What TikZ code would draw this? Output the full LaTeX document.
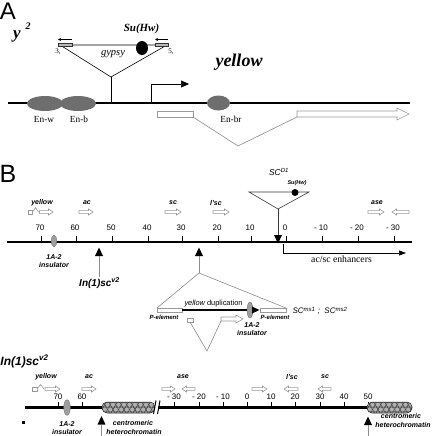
\documentclass[tikz,border=0pt]{standalone}
\usepackage{fontspec}
\setmainfont{Liberation Serif}
\setsansfont{Liberation Sans}
\usetikzlibrary{arrows.meta}
\definecolor{enhc}{gray}{0.43}
\definecolor{insc}{gray}{0.62}
\definecolor{genec}{gray}{0.6}
\definecolor{linec}{gray}{0.55}
\tikzset{
 chrom/.style={line width=2.5pt, black},
 thinl/.style={line width=0.6pt, black},
 grayl/.style={line width=0.6pt, linec},
 genearr/.style={draw=genec, fill=white, line width=0.6pt},
 enhancer/.style={fill=enhc, draw=none},
 insul/.style={fill=insc, draw=gray!80!black, line width=0.3pt},
 tickl/.style={line width=0.5pt, black},
 bl/.style={font=\sffamily\bfseries\itshape\fontsize{7}{8}\selectfont, inner sep=0},
 nm/.style={font=\sffamily\fontsize{8}{9}\selectfont, inner sep=0},
 upmark/.style={fill=black, draw=none},
}
\newcommand\garR[3]{\draw[genearr] (#1,#3-1.4) -- (#2-4.5,#3-1.4) -- (#2-4.5,#3-3) -- (#2,#3) -- (#2-4.5,#3+3) -- (#2-4.5,#3+1.4) -- (#1,#3+1.4) -- cycle;}
\newcommand\garL[3]{\draw[genearr] (#2,#3-1.4) -- (#1+4.5,#3-1.4) -- (#1+4.5,#3-3) -- (#1,#3) -- (#1+4.5,#3+3) -- (#1+4.5,#3+1.4) -- (#2,#3+1.4) -- cycle;}
\newcommand\heterobox[3]{%
 \begin{scope}
 \clip[rounded corners=5] (#1,402) rectangle (#2,413);
 \fill[gray!60] (#1,402) rectangle (#2,413);
 \foreach \xx in {#1,#3,...,#2} {
   \draw[fill=gray!62, draw=gray!25!black, line width=0.35pt] (\xx,404.7) circle (2.6);
   \draw[fill=gray!62, draw=gray!25!black, line width=0.35pt] (\xx+2.75,409.5) circle (2.6);
   \draw[fill=gray!62, draw=gray!25!black, line width=0.35pt] (\xx+2.75,399.9) circle (2.6);
   \draw[fill=gray!62, draw=gray!25!black, line width=0.35pt] (\xx,414.3) circle (2.6);
 }
 \end{scope}
 \draw[rounded corners=5, gray!30!black, line width=0.5pt] (#1,402) rectangle (#2,413);}
\begin{document}
\begin{tikzpicture}[x=1pt,y=-1pt]
\useasboundingbox (0,0) rectangle (432,436);
\fill[white] (0,0) rectangle (432,436);

% ================= Panel A =================
\node[inner sep=0, font=\sffamily\fontsize{24}{26}\selectfont] (labA) at (8,11.5) {A};
\node[inner sep=0, font=\bfseries\itshape\fontsize{17}{18}\selectfont] (y2) at (17,36) {y};
\node[inner sep=0, font=\bfseries\itshape\fontsize{10}{11}\selectfont] (y2s) at (28,26) {2};

\draw[chrom] (8,103) -- (410,103);
% gypsy insertion
\coordinate (gtl) at (60,45);
\coordinate (gtr) at (167,45);
\coordinate (gap) at (111,77);
\coordinate (gbase) at (111,103);
\draw[thinl] (gtl) -- (gtr) -- (gap) -- cycle;
\draw[thinl] (gap) -- (gbase);
\fill[gray!55, draw=gray!40!black, line width=0.3pt] (58,43.5) rectangle (72,46.5);
\fill[gray!55, draw=gray!40!black, line width=0.3pt] (155,43.5) rectangle (168,46.5);
\coordinate (la1) at (72,39.5); \coordinate (la2) at (58,39.5);
\coordinate (ra1) at (168,39.5); \coordinate (ra2) at (155,39.5);
\draw[line width=0.5pt, -{Stealth[length=3pt,width=3pt]}] (la1) -- (la2);
\draw[line width=0.5pt, -{Stealth[length=3pt,width=3pt]}] (ra1) -- (ra2);
\node[inner sep=0, font=\fontsize{7}{8}\selectfont] (t3) at (58,52) {3,};
\node[inner sep=0, font=\fontsize{7}{8}\selectfont] (t5) at (171,52) {5,};
\fill[black] (142,48) ellipse (6 and 7);
\node[inner sep=0, font=\bfseries\itshape\fontsize{11}{12}\selectfont] (suhwA) at (141.5,29) {Su(Hw)};
\node[inner sep=0, font=\itshape\fontsize{10.5}{12}\selectfont] (gypsy) at (113,54) {gypsy};
% promoter
\coordinate (p0) at (151,103);
\coordinate (p1) at (151,84);
\coordinate (p2) at (189,84);
\draw[thinl, -{Triangle[length=8pt,width=7pt]}] (p0) -- (p1) -- (p2);
\node[inner sep=0, font=\bfseries\itshape\fontsize{18}{20}\selectfont] (yellowA) at (239,62) {yellow};
% enhancers
\fill[enhancer] (45,103.5) ellipse (18 and 7.5);
\fill[enhancer] (78,103.5) ellipse (18 and 7.5);
\fill[enhancer] (218.5,103) ellipse (11.5 and 7.5);
\node[inner sep=0, font=\fontsize{9.3}{10}\selectfont] (enw) at (44,119) {En-w};
\node[inner sep=0, font=\fontsize{9.3}{10}\selectfont] (enb) at (79,119) {En-b};
\node[inner sep=0, font=\fontsize{9.3}{10}\selectfont] (enbr) at (231,119) {En-br};
% exons
\draw[genearr] (157,111) rectangle (193,117);
\draw[genearr] (297,111) -- (397,111) -- (397,108) -- (409,114) -- (397,120) -- (397,117) -- (297,117) -- cycle;
\draw[grayl] (193,117) -- (238,146) -- (297,117);

% ================= Panel B =================
\node[inner sep=0, font=\sffamily\fontsize{25}{27}\selectfont] (labB) at (8,174) {B};
\draw[chrom, line width=2.8pt] (7,242) -- (412,242);
\foreach \v/\xx/\t in {70/41/70, 60/76/60, 50/112/50, 40/148/40, 30/182/30, 20/218/20, 10/251/10, 0/286/0, m10/322/- 10, m20/358/- 20, m30/394/- 30} {
  \draw[tickl] (\xx,236) -- (\xx,242);
  \node[nm] (bt\v) at (\xx-1,227.5) {\t};
}
\fill[insul] (54,241) ellipse (2.8 and 5.8);
\node[bl] (ins1a) at (54,257) {1A-2};
\node[bl] (ins1b) at (54,265) {insulator};
% gene arrows
\draw[genearr] (28,210.5) rectangle (32.5,214);
\draw[genearr] (32.5,212) -- (35.5,207.5) -- (38.5,212);
\garR{39.5}{53}{212}
\garR{79}{93}{212}
\garR{165}{181}{212}
\garR{213}{229}{212}
\garR{368}{384}{212}
\garL{392}{409}{212}
\node[bl] (gy) at (42,203) {yellow};
\node[bl] (gac) at (87,203) {ac};
\node[bl] (gsc) at (173,203) {sc};
\node[bl] (glsc) at (216,203) {l'sc};
\node[bl] (gase) at (377,203) {ase};
% In(1)sc v2 breakpoint
\fill[upmark] (95,256) -- (103,256) -- (99,247.5) -- cycle;
\coordinate (m1a) at (99,256); \coordinate (m1b) at (99,277);
\draw[grayl] (m1a) -- (m1b);
\node[inner sep=0, font=\sffamily\bfseries\itshape\fontsize{10}{11}\selectfont] (insv2) at (99.5,283) {In(1)sc\textsuperscript{v2}};
% duplication insertion
\fill[upmark] (195,256) -- (203,256) -- (199,247.5) -- cycle;
\coordinate (m2a) at (199,256); \coordinate (m2b) at (199,273);
\draw[grayl] (m2a) -- (m2b);
\draw[grayl] (m2b) -- (157,308);
\draw[grayl] (m2b) -- (286,308);
\draw[genearr] (157,308) rectangle (182,312);
\draw[genearr] (260,308) rectangle (286,312);
\draw[black, line width=1.5pt] (182,310) -- (254,310);
\fill[insul] (250,310) ellipse (3 and 8);
\fill[black] (252,306.5) -- (259.5,310) -- (252,313.5) -- cycle;
\node[inner sep=0, font=\sffamily\fontsize{7.4}{8}\selectfont] (ydup) at (213.5,303.5) {\itshape yellow\upshape\ duplication};
\node[inner sep=0, font=\sffamily\bfseries\itshape\fontsize{6}{7}\selectfont] (pel1) at (164,317.5) {P-element};
\node[inner sep=0, font=\sffamily\bfseries\itshape\fontsize{6}{7}\selectfont] (pel2) at (275,317.5) {P-element};
\draw[genearr] (187,318) rectangle (193,322);
\draw[genearr] (221,317) -- (236,317) -- (236,315) -- (243,319) -- (236,323) -- (236,321) -- (221,321) -- cycle;
\draw[grayl] (190,322) -- (207,351) -- (221,321);
\node[bl] (ins2a) at (252,325) {1A-2};
\node[bl] (ins2b) at (252,332.5) {insulator};
\node[inner sep=0, font=\sffamily\itshape\fontsize{8}{9}\selectfont] (scms) at (320,311) {SC\textsuperscript{ms1} ;\ \ SC\textsuperscript{ms2}};
% scD1 gypsy insertion
\coordinate (st1) at (249,192); \coordinate (st2) at (309,192); \coordinate (sap) at (278,209);
\draw[line width=0.6pt, gray!45!black] (st1) -- (st2) -- (sap) -- cycle;
\coordinate (sdn) at (278,235);
\draw[line width=0.6pt, gray!45!black] (sap) -- (sdn);
\fill[black] (274,235) -- (282,235) -- (278,243.5) -- cycle;
\fill[black] (295,192.5) circle (3.5);
\node[inner sep=0, font=\sffamily\itshape\fontsize{8.5}{9}\selectfont] (scd1) at (279,172) {SC\textsuperscript{D1}};
\node[inner sep=0, font=\sffamily\bfseries\itshape\fontsize{5.5}{6}\selectfont] (suhwB) at (297,183) {Su(Hw)};
% enhancers arrow
\coordinate (e0) at (283,244); \coordinate (e1) at (283,253); \coordinate (e2) at (406,253);
\draw[line width=0.6pt, -{Triangle[length=7pt,width=5pt]}] (e0) -- (e1) -- (e2);
\node[inner sep=0, font=\fontsize{9.7}{11}\selectfont] (enhl) at (341.5,259.5) {ac/sc enhancers};

% ================= Bottom: In(1)sc v2 =================
\node[inner sep=0, font=\sffamily\bfseries\itshape\fontsize{12}{13}\selectfont] (insv2b) at (24.5,361.5) {In(1)sc\textsuperscript{v2}};
\draw[chrom, line width=2.8pt] (25,407.5) -- (105,407.5);
\draw[chrom, line width=2.8pt] (158,407.5) -- (370,407.5);
\foreach \v/\xx/\t in {70/58/70, 60/82/60} {
  \draw[tickl] (\xx,402) -- (\xx,407);
  \node[nm] (ct\v) at (\xx,397) {\t};
}
\foreach \v/\xx/\t in {m30/174/- 30, m20/199/- 20, m10/223/- 10, 0/247/0, 10/271/10, 20/295/20, 30/320/30, 40/344/40, 50/368/50} {
  \draw[tickl] (\xx,402) -- (\xx,407);
  \node[nm] (ct\v) at (\xx,397) {\t};
}
\heterobox{102}{155}{107.5}
\heterobox{367}{412}{372.5}
% break
\fill[white] (153.5,399) -- (157,399) -- (160,415) -- (156.5,415) -- cycle;
\draw[black, line width=1pt] (153.5,414) -- (156,400.5);
\draw[black, line width=1pt] (157.5,414) -- (160,400.5);
\fill[insul] (67,407.5) ellipse (3.3 and 7.8);
\node[bl] (ins3a) at (67,424) {1A-2};
\node[bl] (ins3b) at (67,432) {insulator};
\fill[black] (21.5,420.5) rectangle (24.5,423.5);
% gene arrows bottom
\draw[genearr] (32,387.2) rectangle (37,390.8);
\draw[genearr] (37,389) -- (40.5,384.5) -- (44,389);
\garR{45}{60}{389}
\garR{82}{96}{389}
\garR{162}{175}{389}
\garL{182}{195}{389}
\garR{252}{267}{389}
\garL{284}{298}{389}
\garL{318}{331}{389}
\node[bl] (hy) at (46,377) {yellow};
\node[bl] (hac) at (89,377) {ac};
\node[bl] (hase) at (183,377) {ase};
\node[bl] (hlsc) at (292,377) {l'sc};
\node[bl] (hsc) at (325,377) {sc};
% breakpoint marks
\fill[upmark] (97.5,424.5) -- (105.5,424.5) -- (101.5,416) -- cycle;
\coordinate (b1a) at (101.5,424.5); \coordinate (b1b) at (101.5,436);
\draw[grayl] (b1a) -- (b1b);
\node[bl] (cen1a) at (133,423) {centromeric};
\node[bl] (cen1b) at (134,431.5) {heterochromatin};
\fill[upmark] (364,425) -- (372,425) -- (368,416.5) -- cycle;
\coordinate (b2a) at (368,425); \coordinate (b2b) at (368,436);
\draw[grayl] (b2a) -- (b2b);
\node[bl] (cen2a) at (401,416) {centromeric};
\node[bl] (cen2b) at (403,424.5) {heterochromatin};
\end{tikzpicture}
\end{document}
